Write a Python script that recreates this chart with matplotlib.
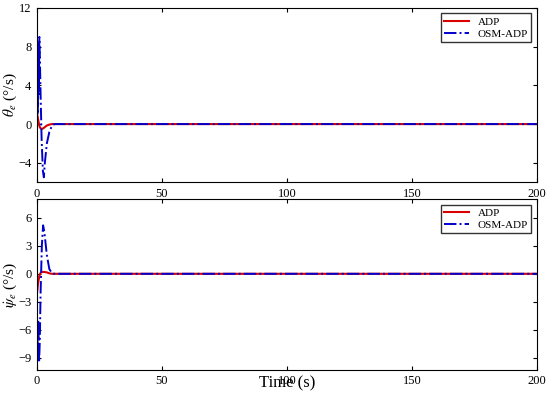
import numpy as np
import matplotlib.pyplot as plt

plt.rcParams['font.family'] = ['Liberation Serif', 'DejaVu Serif']
plt.rcParams['mathtext.fontset'] = 'stix'

# theta_e rate
t_th_adp = [0, 0.5, 1, 1.5, 2, 2.5, 3, 4, 5, 6, 8, 200]
th_adp = [1.2, 0.5, -0.2, -0.45, -0.5, -0.45, -0.35, -0.15, -0.05, 0, 0, 0]
t_th_osm = [0, 0.2, 0.4, 0.6, 0.8, 1.0, 1.2, 1.5, 1.9, 2.4, 2.8, 3.2, 4, 5, 6, 7, 200]
th_osm = [2, 7.5, 1, 8.5, 3, 9, 7, 3, -1.5, -4.8, -5.5, -4, -2, -0.8, -0.2, 0, 0]

# psi_e rate
t_ps_adp = [0, 0.5, 1, 1.5, 2, 3, 4, 5, 6, 8, 200]
ps_adp = [-2.2, -1.0, -0.2, 0.1, 0.2, 0.2, 0.15, 0.05, 0, 0, 0]
t_ps_osm = [0, 0.3, 0.6, 0.9, 1.2, 1.5, 2.0, 2.5, 3, 4, 5, 6, 7, 200]
ps_osm = [-3, -8, -5, -9.5, -7, -2, 3, 5.2, 4.5, 2, 0.5, 0.1, 0, 0]

xticks = [0, 50, 100, 150, 200]

fig = plt.figure(figsize=(5.5, 3.96), dpi=100)
ax1 = fig.add_axes([0.067, 0.540, 0.909, 0.440])
ax2 = fig.add_axes([0.067, 0.066, 0.909, 0.431])

red = '#d80000'
blue = '#0000cc'

ax1.plot(t_th_adp, th_adp, color=red, lw=1.5, label='ADP')
ax1.plot(t_th_osm, th_osm, color=blue, lw=1.4, ls='-.', label='OSM-ADP')
ax1.set_ylim(-6, 12)
ax1.set_yticks([-4, 0, 4, 8, 12])
ax1.set_ylabel(r'$\dot{\theta}_e$ (°/s)', fontsize=11)

ax2.plot(t_ps_adp, ps_adp, color=red, lw=1.5, label='ADP')
ax2.plot(t_ps_osm, ps_osm, color=blue, lw=1.4, ls='-.', label='OSM-ADP')
ax2.set_ylim(-10.3, 8)
ax2.set_yticks([-9, -6, -3, 0, 3, 6])
ax2.set_ylabel(r'$\dot{\psi}_e$ (°/s)', fontsize=11)
ax2.set_xlabel('Time (s)', fontsize=12, labelpad=-9)

for ax in (ax1, ax2):
    ax.set_xlim(0, 200)
    ax.set_xticks(xticks)
    ax.tick_params(direction='in', top=True, right=True, labelsize=9,
                   length=3, pad=4)
    ax.yaxis.set_label_coords(-0.036, 0.5)
    ax.legend(loc='upper right', fontsize=8, frameon=True, fancybox=False,
              edgecolor='black', borderpad=0.3, handlelength=2.2, labelspacing=0.2)

fig.savefig('out.png', dpi=100)
